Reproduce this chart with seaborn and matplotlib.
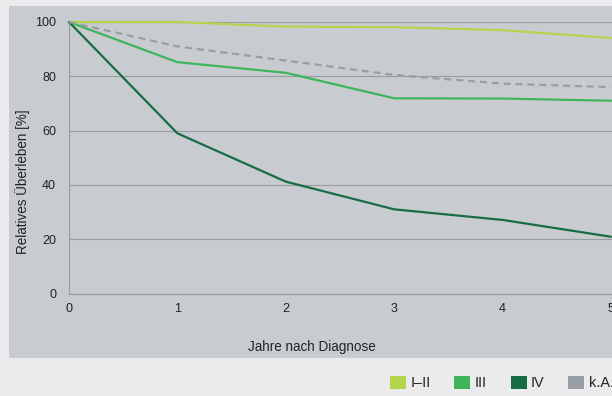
import matplotlib
matplotlib.use("Agg")
import matplotlib.pyplot as plt
import seaborn as sns
from matplotlib.patches import Rectangle, Patch

# data
years = [0, 1, 2, 3, 4, 5]
stage_1_2 = [100, 100, 98.3, 98.1, 97.0, 94.1]
stage_3 = [100, 85.2, 81.3, 71.9, 71.8, 71.0]
stage_4 = [100, 59.0, 41.2, 31.0, 27.1, 20.9]
stage_na = [100, 91.0, 85.8, 80.5, 77.3, 76.0]
labels = ["I–II", "III", "IV", "k.A."]
colors = ["#b3d44b", "#3db55b", "#176c43", "#999ea5"]
yticks = [0, 20, 40, 60, 80, 100]

sns.set_style("white")
plt.rcParams["font.family"] = ["Liberation Sans", "DejaVu Sans"]

W, H = 612, 396
fig = plt.figure(figsize=(W / 72, H / 72), dpi=72, facecolor="#ebebed")

# grey panel behind the chart
fig.patches.append(Rectangle((9 / W, 1 - 358 / H), 1, (358 - 6) / H,
                             transform=fig.transFigure, facecolor="#c8cbcf",
                             edgecolor="none", zorder=-10))

x0, x_unit = 69, 108.4
xmax = 5.4
ax = fig.add_axes([x0 / W, 1 - 293.5 / H, xmax * x_unit / W, (293.5 - 22) / H])
ax.set_facecolor("none")
ax.set_zorder(1)

series = [stage_1_2, stage_3, stage_4, stage_na]
for vals, lab, col in zip(series, labels, colors):
    ls = (0, (3.2, 2.2)) if lab == "k.A." else "-"
    sns.lineplot(x=years, y=vals, color=col, linewidth=2.2, linestyle=ls,
                 ax=ax, clip_on=False, zorder=3)

ax.set_xlim(0, xmax)
ax.set_ylim(0, 100)
ax.set_xticks(years)
ax.set_yticks(yticks)
ax.grid(axis="y", color="#9a9da2", linewidth=1.2)
ax.tick_params(axis="y", length=3, color="#9a9da2", width=1.2, pad=10,
               labelsize=12.5, labelcolor="#222222")
ax.tick_params(axis="x", length=4, color="#9a9da2", width=1, pad=5,
               labelsize=12.5, labelcolor="#222222", direction="out")
for side in ["top", "right"]:
    ax.spines[side].set_visible(False)
for side in ["left", "bottom"]:
    ax.spines[side].set_color("#9a9da2")
    ax.spines[side].set_linewidth(1.2)

ax.set_xlabel("Jahre nach Diagnose", fontsize=13.5, color="#222222")
ax.xaxis.set_label_coords((312 - x0) / (xmax * x_unit), -0.172)
ax.set_ylabel("Relatives Überleben [%]", fontsize=13.5, color="#222222")
ax.yaxis.set_label_coords(-0.067, 0.41)

handles = [Patch(facecolor=c, edgecolor="none") for c in colors]
fig.legend(handles, labels, loc="center left",
           bbox_to_anchor=(390 / W, 1 - 383 / H), ncol=4, frameon=False,
           fontsize=14.5, handlelength=1.1, handleheight=1.1,
           handletextpad=0.3, columnspacing=1.65, borderpad=0,
           borderaxespad=0, labelcolor="#222222")

fig.savefig("out.png", dpi=72, facecolor=fig.get_facecolor())
